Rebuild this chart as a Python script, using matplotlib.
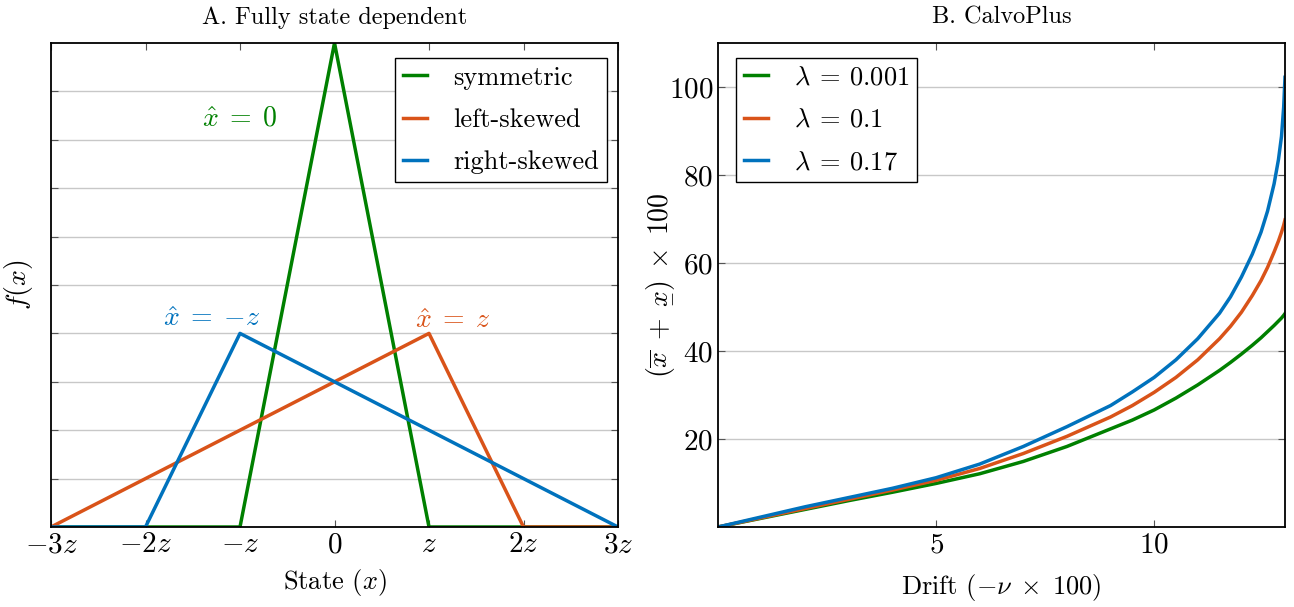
import matplotlib
matplotlib.use("Agg")
import matplotlib.pyplot as plt

plt.rcParams['font.family'] = 'serif'
plt.rcParams['font.serif'] = ['cmr10']
plt.rcParams['mathtext.fontset'] = 'cm'
plt.rcParams['axes.formatter.use_mathtext'] = True
plt.rcParams['axes.unicode_minus'] = False

# panel A: piecewise linear densities, x in units of z
state = [-3, -2, -1, 0, 1, 2, 3]
symmetric = [0, 0, 0, 1.0, 0, 0, 0]
left_skewed = [0, 0.1, 0.2, 0.3, 0.4, 0, 0]
right_skewed = [0, 0, 0.4, 0.3, 0.2, 0.1, 0]
state_ticks = ["$-3z$", "$-2z$", "$-z$", "$0$", "$z$", "$2z$", "$3z$"]

# panel B
drift = [0, 1, 2, 3, 4, 5, 6, 7, 8, 9, 9.5, 10, 10.5, 11, 11.5, 11.75, 12,
         12.25, 12.45, 12.6, 12.75, 12.85, 12.92, 12.97, 13]
lam_001 = [0, 2.0, 4.0, 6.0, 7.9, 9.9, 12.1, 14.9, 18.3, 22.3, 24.3, 26.6, 29.3, 32.3, 35.6, 37.4, 39.3,
           41.3, 43.0, 44.4, 45.8, 46.8, 47.5, 48.1, 48.5]
lam_1 = [0, 2.1, 4.2, 6.3, 8.4, 10.6, 13.3, 16.7, 20.6, 25.0, 27.6, 30.6, 34.0, 38.0, 42.8, 45.6, 48.8,
         52.6, 56.0, 59.0, 62.5, 65.0, 67.0, 68.6, 69.8]
lam_17 = [0, 2.3, 4.6, 6.7, 8.8, 11.2, 14.3, 18.3, 22.8, 27.6, 30.7, 34.0, 38.0, 42.8, 48.6, 52.3, 56.8,
          62.0, 67.0, 71.8, 78.0, 83.5, 88.8, 95.5, 102.2]

green = '#008000'
orange = '#D95319'
blue = '#0072BD'
lw = 2.5

fig = plt.figure(figsize=(12.94, 6.07), dpi=100)
ax1 = fig.add_axes([51/1294, 80/607, 567/1294, 484/607])
ax2 = fig.add_axes([718/1294, 80/607, 567/1294, 484/607])

ax1.plot(state, symmetric, color=green, lw=lw, label='symmetric')
ax1.plot(state, left_skewed, color=orange, lw=lw, label='left-skewed')
ax1.plot(state, right_skewed, color=blue, lw=lw, label='right-skewed')
ax1.set_xlim(-3, 3)
ax1.set_ylim(0, 1)
ax1.set_xticks(state)
ax1.set_xticklabels(state_ticks)
ax1.set_yticks([0.1 * i for i in range(1, 10)])
ax1.set_yticklabels([])
ax1.text(-1.0, 0.845, r'$\hat{x}\;=\;0$', color=green, fontsize=20, ha='center', va='center')
ax1.text(-1.3, 0.43, r'$\hat{x}\;=\;{-z}$', color=blue, fontsize=20, ha='center', va='center')
ax1.text(1.25, 0.425, r'$\hat{x}\;=\;z$', color=orange, fontsize=20, ha='center', va='center')
ax1.set_xlabel('State ($x$)', fontsize=19, labelpad=6)
ax1.set_ylabel('$f(x)$', fontsize=20, labelpad=8)
ax1.set_title('A. Fully state dependent', fontsize=17.5, pad=14)
ax1.legend(loc='upper right', bbox_to_anchor=(1 - 11/567, 1 - 15/484), borderaxespad=0,
           fontsize=19, handlelength=0.9, handletextpad=1.0, labelspacing=0.7, borderpad=0.3,
           fancybox=False, edgecolor='black', framealpha=1)

ax2.plot(drift, lam_001, color=green, lw=lw, label=r'$\lambda\:=\:0.001$')
ax2.plot(drift, lam_1, color=orange, lw=lw, label=r'$\lambda\:=\:0.1$')
ax2.plot(drift, lam_17, color=blue, lw=lw, label=r'$\lambda\:=\:0.17$')
ax2.set_xlim(0, 13)
ax2.set_ylim(0, 110)
ax2.set_xticks([5, 10])
ax2.set_xticklabels(['$5$', '$10$'])
ax2.set_yticks([20, 40, 60, 80, 100])
ax2.set_yticklabels(['$20$', '$40$', '$60$', '$80$', '$100$'])
ax2.set_xlabel(r'Drift ($-\nu\;\times\;100$)', fontsize=19, labelpad=10)
ax2.set_ylabel(r'$(\overline{x}\;+\;\underset{-}{x})\;\times\;100$', fontsize=20)
ax2.yaxis.set_label_coords(-0.077, 0.5)
ax2.set_title('B. CalvoPlus', fontsize=17.5, pad=14)
ax2.legend(loc='upper left', bbox_to_anchor=(18/567, 1 - 15/484), borderaxespad=0,
           fontsize=19, handlelength=0.9, handletextpad=1.0, labelspacing=0.7, borderpad=0.3,
           fancybox=False, edgecolor='black', framealpha=1)

for ax in (ax1, ax2):
    ax.grid(axis='y', color='#c8c8c8', lw=1)
    ax.set_axisbelow(True)
    ax.tick_params(direction='in', top=True, right=True, length=5, labelsize=21, color='#555555')
    for s in ax.spines.values():
        s.set_linewidth(1.3)

fig.savefig('out.png', dpi=100)
